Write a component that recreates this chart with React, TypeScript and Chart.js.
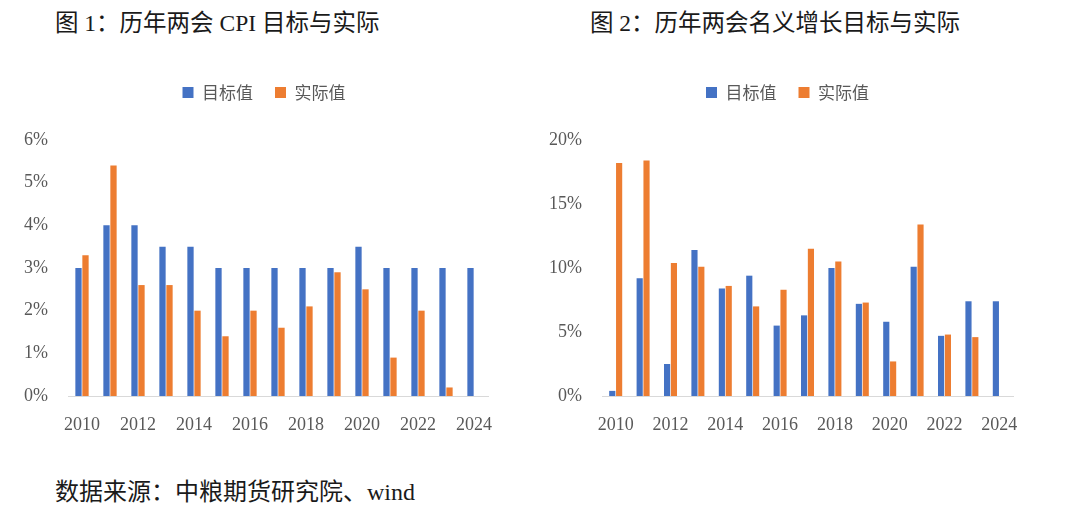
import React, { useEffect, useRef } from "react";
import { Chart, registerables } from "chart.js";

Chart.register(...registerables);

const years = ["2010", "2011", "2012", "2013", "2014", "2015", "2016", "2017", "2018", "2019", "2020", "2021", "2022", "2023", "2024"];
const cpiTarget = [3, 4, 4, 3.5, 3.5, 3, 3, 3, 3, 3, 3.5, 3, 3, 3, 3];
const cpiActual = [3.3, 5.4, 2.6, 2.6, 2.0, 1.4, 2.0, 1.6, 2.1, 2.9, 2.5, 0.9, 2.0, 0.2, null];
const nomTarget = [0.4, 9.2, 2.5, 11.4, 8.4, 9.4, 5.5, 6.3, 10.0, 7.2, 5.8, 10.1, 4.7, 7.4, 7.4];
const nomActual = [18.2, 18.4, 10.4, 10.1, 8.6, 7.0, 8.3, 11.5, 10.5, 7.3, 2.7, 13.4, 4.8, 4.6, null];
const seriesNames = ["目标值", "实际值"];
const colors = ["#4472C4", "#ED7D31"];

const tickFont = { family: "'Liberation Serif', 'DejaVu Serif', serif", size: 18 };
const gray = "#595959";

type Cfg = {
  target: (number | null)[];
  actual: (number | null)[];
  max: number;
  step: number;
  padR: number;
  yWidth: number;
  legendShift: number;
};

function BarChart({ cfg }: { cfg: Cfg }) {
  const ref = useRef<HTMLCanvasElement | null>(null);
  useEffect(() => {
    if (!ref.current) return;
    const legendGap = {
      id: "legendGap",
      beforeInit(chart: any) {
        const orig = chart.legend.fit;
        chart.legend.fit = function () {
          orig.bind(chart.legend)();
          this.height += 29;
        };
      },
      afterLayout(chart: any) {
        const lg = chart.legend;
        if (lg) {
          lg.left += cfg.legendShift;
          lg.right += cfg.legendShift;
        }
      },
    };
    const chart = new Chart(ref.current, {
      type: "bar",
      data: {
        labels: years,
        datasets: [
          { label: seriesNames[0], data: cfg.target, backgroundColor: colors[0], barPercentage: 0.9, categoryPercentage: 0.5 },
          { label: seriesNames[1], data: cfg.actual, backgroundColor: colors[1], barPercentage: 0.9, categoryPercentage: 0.5 },
        ],
      },
      options: {
        animation: false,
        responsive: false,
        maintainAspectRatio: false,
        layout: { padding: { left: 0, right: cfg.padR, top: 12, bottom: 10 } },
        plugins: {
          legend: {
            position: "top",
            labels: {
              boxWidth: 11,
              boxHeight: 11,
              padding: 22,
              color: gray,
              font: { family: "'Noto Sans CJK SC', sans-serif", size: 17 },
            },
          },
          tooltip: { enabled: false },
        },
        scales: {
          x: {
            grid: { display: false, drawTicks: false },
            border: { display: true, color: "#d9d9d9", width: 1 },
            ticks: {
              autoSkip: false,
              maxRotation: 0,
              padding: 18,
              color: gray,
              font: tickFont,
              callback: (_v: any, i: number) => (i % 2 === 0 ? years[i] : ""),
            },
            afterFit: (s: any) => {
              s.height = 44;
            },
          },
          y: {
            min: 0,
            max: cfg.max,
            grid: { display: false, drawTicks: false },
            border: { display: false },
            ticks: {
              stepSize: cfg.step,
              padding: 20,
              color: gray,
              font: tickFont,
              callback: (v: any) => `${v}%`,
            },
            afterFit: (s: any) => {
              s.width = cfg.yWidth;
            },
          },
        },
      },
      plugins: [legendGap],
    } as any);
    return () => chart.destroy();
  }, [cfg]);
  return <canvas ref={ref} width={540} height={400} style={{ width: 540, height: 400, display: "block" }} />;
}

const leftCfg: Cfg = { target: cpiTarget, actual: cpiActual, max: 6, step: 1, padR: 52, yWidth: 68, legendShift: 20 };
const rightCfg: Cfg = { target: nomTarget, actual: nomActual, max: 20, step: 5, padR: 67, yWidth: 62, legendShift: 11 };

const textStyle: React.CSSProperties = {
  position: "absolute",
  fontFamily: "'Liberation Serif', 'Noto Sans CJK SC', serif",
  fontSize: 23.5,
  color: "#1a1a1a",
  whiteSpace: "nowrap",
  lineHeight: "30px",
};

export default function App() {
  return (
    <div style={{ position: "absolute", left: 0, top: 0, width: 1080, height: 521, background: "#fff", overflow: "hidden" }}>
      <div style={{ ...textStyle, left: 55, top: 8 }}>图 1：历年两会 CPI 目标与实际</div>
      <div style={{ ...textStyle, left: 590, top: 8 }}>图 2：历年两会名义增长目标与实际</div>
      <div style={{ position: "absolute", left: 0, top: 50 }}>
        <BarChart cfg={leftCfg} />
      </div>
      <div style={{ position: "absolute", left: 540, top: 50 }}>
        <BarChart cfg={rightCfg} />
      </div>
      <div style={{ ...textStyle, left: 55, top: 477, fontSize: 24 }}>数据来源：中粮期货研究院、wind</div>
    </div>
  );
}
